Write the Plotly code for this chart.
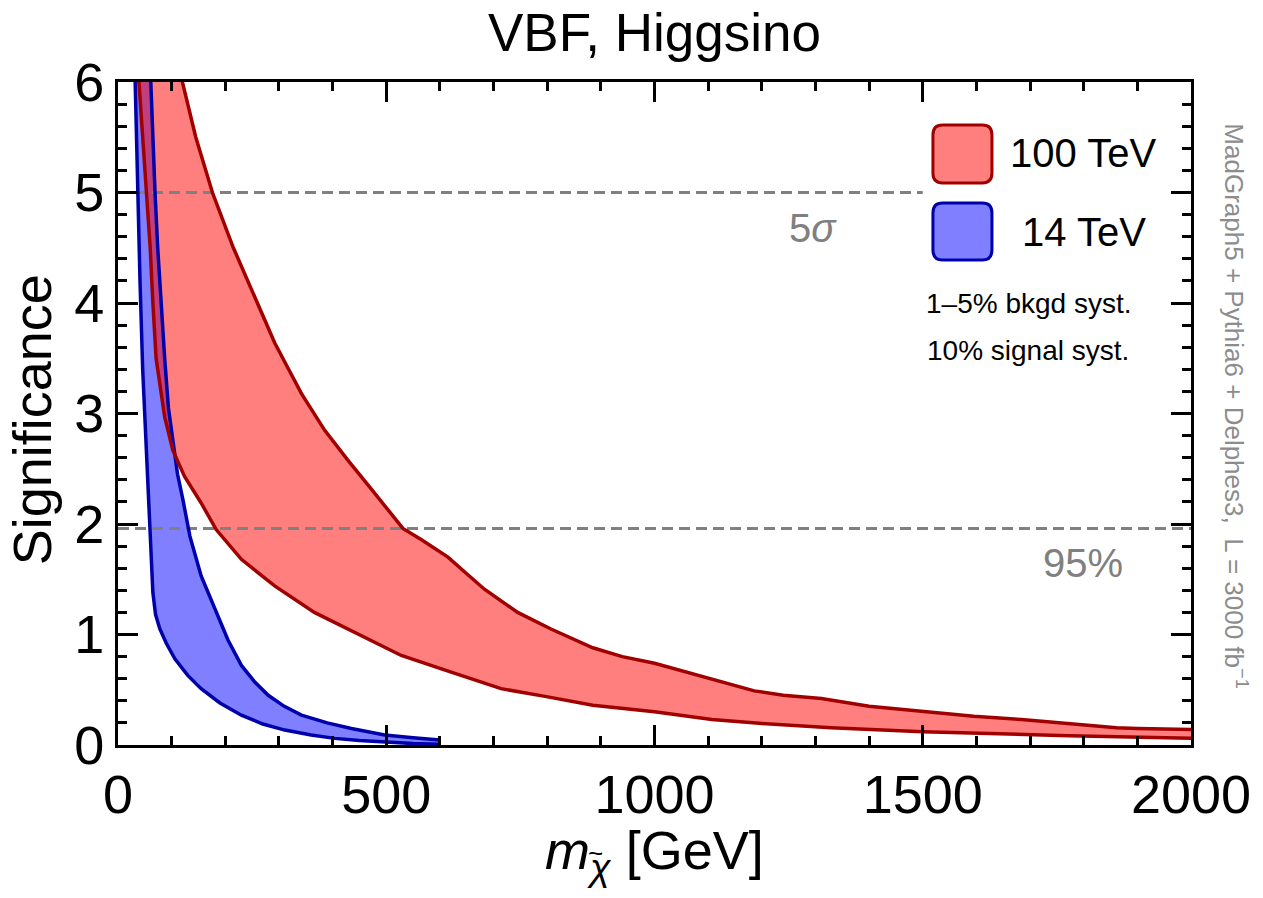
import plotly.graph_objects as go

# ---------------- data ----------------
# 100 TeV band, upper edge
red_up_x = [105, 120, 145, 176, 215, 260, 292, 318, 342, 385, 428, 470, 503, 531, 565, 615, 650, 683,
            745, 807, 885, 940, 1000, 1080, 1186, 1240, 1311, 1400, 1500, 1595, 1684, 1800, 1861, 1900, 2000]
red_up_y = [6.4, 6.0, 5.5, 5.0, 4.5, 4.0, 3.64, 3.40, 3.18, 2.85, 2.58, 2.33, 2.13, 1.96, 1.86, 1.70, 1.55, 1.41,
            1.20, 1.05, 0.88, 0.80, 0.74, 0.63, 0.49, 0.45, 0.42, 0.35, 0.30, 0.26, 0.23, 0.18, 0.157, 0.15, 0.14]
# 100 TeV band, lower edge
red_lo_x = [36, 39, 46, 53, 60, 65, 71, 80, 87, 102, 124, 155, 183, 230, 292, 366, 453, 528, 621, 714,
            796, 885, 1000, 1107, 1195, 1329, 1500, 1639, 1773, 2000]
red_lo_y = [6.4, 6.0, 5.5, 5.0, 4.5, 4.0, 3.5, 3.2, 2.97, 2.67, 2.43, 2.19, 1.95, 1.68, 1.44, 1.20, 0.99, 0.81, 0.66, 0.51,
            0.44, 0.36, 0.30, 0.23, 0.196, 0.157, 0.12, 0.10, 0.084, 0.06]
# 14 TeV band, upper edge
blue_up_x = [58, 61, 65, 69, 74, 80, 87, 94, 102, 111, 121, 134, 155, 186, 205, 230, 255, 280, 310, 342, 390, 435,
             497, 550, 600]
blue_up_y = [6.4, 6.0, 5.5, 5.0, 4.5, 4.0, 3.5, 3.05, 2.74, 2.45, 2.22, 1.89, 1.53, 1.17, 0.95, 0.72, 0.57, 0.45,
             0.35, 0.27, 0.20, 0.15, 0.09, 0.065, 0.045]
# 14 TeV band, lower edge
blue_lo_x = [30, 32, 36, 41, 46, 53, 59, 62, 65, 70, 78, 90, 106, 130, 155, 190, 230, 270, 311, 360, 404, 450,
             497, 550, 600]
blue_lo_y = [6.4, 6.0, 5.0, 4.2, 3.4, 2.67, 1.92, 1.7, 1.38, 1.18, 1.05, 0.92, 0.78, 0.63, 0.51, 0.38, 0.27, 0.19,
             0.135, 0.09, 0.06, 0.04, 0.024, 0.013, 0.006]

# reference significance levels
ref_levels = [5.0, 1.96]
ref_x_start = [0, 0]
ref_x_end = [1500, 2000]
ref_labels = ["5<i>σ</i>", "95%"]
ref_label_x = [1296, 1799]
ref_label_y = [4.68, 1.65]

series_names = ["100 TeV", "14 TeV"]
x_tick_vals = [0, 500, 1000, 1500, 2000]
y_tick_vals = [0, 1, 2, 3, 4, 5, 6]

# ---------------- styles ----------------
FONT = "Liberation Sans, Arial, sans-serif"
RED_FILL = "rgba(255,0,0,0.5)"
RED_LINE = "#a00000"
BLUE_FILL = "rgba(0,0,255,0.5)"
BLUE_LINE = "#0000aa"
GRAY = "#808080"

fig = go.Figure()

# fills
fig.add_trace(go.Scatter(x=blue_up_x + blue_lo_x[::-1], y=blue_up_y + blue_lo_y[::-1],
                         fill="toself", fillcolor=BLUE_FILL, mode="lines", line=dict(width=0),
                         hoverinfo="skip", showlegend=False))
fig.add_trace(go.Scatter(x=red_up_x + red_lo_x[::-1], y=red_up_y + red_lo_y[::-1],
                         fill="toself", fillcolor=RED_FILL, mode="lines", line=dict(width=0),
                         hoverinfo="skip", showlegend=False))

# reference dashed lines
for lv, xs, xe in zip(ref_levels, ref_x_start, ref_x_end):
    fig.add_trace(go.Scatter(x=[xs, xe], y=[lv, lv], mode="lines",
                             line=dict(color=GRAY, width=3, dash="11px,6px"),
                             hoverinfo="skip", showlegend=False))

# boundary lines
for xs, ys, c in [(blue_up_x, blue_up_y, BLUE_LINE), (blue_lo_x, blue_lo_y, BLUE_LINE),
                  (red_up_x, red_up_y, RED_LINE), (red_lo_x, red_lo_y, RED_LINE)]:
    fig.add_trace(go.Scatter(x=xs, y=ys, mode="lines", line=dict(color=c, width=3.5),
                             hoverinfo="skip", showlegend=False))

# labels on reference lines
for t, lx, ly in zip(ref_labels, ref_label_x, ref_label_y):
    fig.add_annotation(x=lx, y=ly, text=t, showarrow=False, font=dict(family=FONT, size=40, color=GRAY),
                       xanchor="center", yanchor="middle")


# ---------------- custom legend ----------------
def rounded_box(x0, x1, y0, y1, rx, ry):
    return (f"M {x0+rx},{y0} L {x1-rx},{y0} Q {x1},{y0} {x1},{y0+ry} L {x1},{y1-ry} "
            f"Q {x1},{y1} {x1-rx},{y1} L {x0+rx},{y1} Q {x0},{y1} {x0},{y1-ry} "
            f"L {x0},{y0+ry} Q {x0},{y0} {x0+rx},{y0} Z")


legend_boxes = [(1519, 1629, 5.086, 5.611, RED_FILL, RED_LINE),
                (1519, 1629, 4.389, 4.905, BLUE_FILL, BLUE_LINE)]
legend_text_pos = [(1798, 5.36), (1800, 4.645)]
for (x0, x1, y0, y1, fc, lc), name, (tx, ty) in zip(legend_boxes, series_names, legend_text_pos):
    fig.add_shape(type="path", path=rounded_box(x0, x1, y0, y1, 18, 0.09), xref="x", yref="y",
                  fillcolor=fc, line=dict(color=lc, width=3), layer="above")
    fig.add_annotation(x=tx, y=ty, text=name, showarrow=False, font=dict(family=FONT, size=40, color="black"),
                       xanchor="center", yanchor="middle")

for txt, ty in [("1–5% bkgd syst.", 4.0), ("10% signal syst.", 3.566)]:
    fig.add_annotation(x=1697, y=ty, text=txt, showarrow=False, font=dict(family=FONT, size=28, color="black"),
                       xanchor="center", yanchor="middle")

# title / axis titles / side note
fig.add_annotation(x=0.5, y=1.0754, xref="paper", yref="paper", text="VBF, Higgsino", showarrow=False,
                   font=dict(family=FONT, size=53, color="black"), xanchor="center", yanchor="middle")
fig.add_annotation(x=-0.08, y=0.49, xref="paper", yref="paper", text="Significance", showarrow=False,
                   textangle=-90, font=dict(family=FONT, size=54, color="black"), xanchor="center", yanchor="middle")
fig.add_annotation(x=0.5, y=-0.165, xref="paper", yref="paper",
                   text="<i>m</i><sub><i>χ</i></sub> [GeV]",
                   showarrow=False, font=dict(family=FONT, size=54, color="black"), xanchor="center", yanchor="middle")
# tilde accent over the subscript chi
fig.add_annotation(x=0.4448, y=-0.1625, xref="paper", yref="paper", text="~", showarrow=False,
                   font=dict(family=FONT, size=26, color="black"), xanchor="center", yanchor="middle")
fig.add_annotation(x=1.0418, y=0.511, xref="paper", yref="paper",
                   text="MadGraph5 + Pythia6 + Delphes3,  L = 3000 fb<sup>−1</sup>", showarrow=False,
                   textangle=90, font=dict(family=FONT, size=26, color="#8c8c8c"), xanchor="center", yanchor="middle")

axis_common = dict(showline=True, linewidth=3, linecolor="black", mirror="ticks", ticks="inside",
                   ticklen=20, tickwidth=3, tickcolor="black", showgrid=False, zeroline=False,
                   tickfont=dict(family=FONT, size=54, color="black"))
fig.update_xaxes(range=[0, 2000], tickvals=x_tick_vals,
                 minor=dict(dtick=100, ticks="inside", ticklen=9, tickwidth=2.5, tickcolor="black", showgrid=False),
                 **axis_common)
fig.update_yaxes(range=[0, 6], tickvals=y_tick_vals,
                 minor=dict(dtick=0.2, ticks="inside", ticklen=9, tickwidth=2.5, tickcolor="black", showgrid=False),
                 **axis_common)

fig.update_layout(width=1263, height=898, margin=dict(l=118, r=68, t=82, b=153),
                  paper_bgcolor="white", plot_bgcolor="white", showlegend=False,
                  font=dict(family=FONT))

fig.write_html("out.html")
